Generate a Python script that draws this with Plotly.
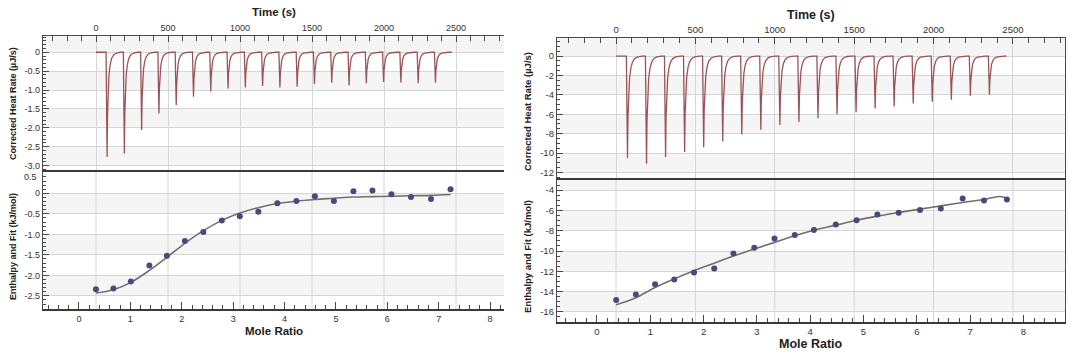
import plotly.graph_objects as go

# ---------------- data ----------------
# injection times (s) of the two thermograms
inj_time_left = [70, 190, 310, 430, 550, 670, 790, 910, 1030, 1150,
                 1270, 1390, 1510, 1630, 1750, 1870, 1990, 2110, 2230, 2350]
peak_left = [-2.77, -2.68, -2.06, -1.62, -1.40, -1.18, -1.04, -0.96, -0.93, -0.89,
             -0.93, -0.91, -0.84, -0.81, -0.88, -0.82, -0.79, -0.80, -0.82, -0.81]
run_end_left = 2470

inj_time_right = [65, 185, 305, 425, 545, 665, 785, 905, 1025, 1145,
                  1265, 1385, 1505, 1625, 1745, 1865, 1985, 2105, 2225, 2345]
peak_right = [-10.5, -11.1, -10.4, -9.9, -9.4, -8.8, -8.1, -7.6, -7.1, -6.8,
              -6.4, -6.0, -5.8, -5.4, -5.2, -4.9, -4.7, -4.5, -4.1, -4.0]
run_end_right = 2460

# shape of one injection peak (seconds after injection, fraction of peak depth)
peak_dt = [0, 3, 7, 10, 14, 20, 28, 38, 52, 72, 100]
peak_frac = [0, 0.45, 1.0, 0.6, 0.36, 0.22, 0.12, 0.06, 0.025, 0.008, 0]

# integrated heats (binding isotherms)
mr_left = [0.33, 0.67, 1.01, 1.37, 1.71, 2.06, 2.42, 2.78, 3.13, 3.49,
           3.86, 4.23, 4.59, 4.96, 5.34, 5.71, 6.08, 6.46, 6.85, 7.23]
dh_left = [-2.34, -2.32, -2.15, -1.76, -1.52, -1.16, -0.94, -0.66, -0.56, -0.45,
           -0.24, -0.19, -0.07, -0.19, 0.05, 0.07, -0.02, -0.09, -0.14, 0.10]
fit_left = [-2.43, -2.35, -2.17, -1.88, -1.56, -1.22, -0.91, -0.66, -0.48, -0.35,
            -0.25, -0.19, -0.15, -0.12, -0.09, -0.08, -0.07, -0.06, -0.05, -0.03]

mr_right = [0.36, 0.73, 1.09, 1.45, 1.82, 2.20, 2.56, 2.95, 3.33, 3.71,
            4.07, 4.48, 4.87, 5.26, 5.66, 6.06, 6.45, 6.86, 7.26, 7.69]
dh_right = [-14.84, -14.28, -13.29, -12.80, -12.11, -11.72, -10.24, -9.68, -8.76, -8.43,
            -7.94, -7.38, -6.96, -6.40, -6.24, -5.97, -5.81, -4.82, -5.01, -4.92]
fit_mr_right = [0.36, 0.73, 1.09, 1.45, 1.82, 2.20, 2.56, 2.95, 3.33, 3.71,
                4.07, 4.48, 4.87, 5.26, 5.66, 6.06, 6.45, 6.86, 7.26, 7.55, 7.69]
fit_right = [-15.3, -14.6, -13.6, -12.75, -11.95, -11.2, -10.5, -9.8, -9.15, -8.5,
             -7.95, -7.45, -6.96, -6.56, -6.2, -5.87, -5.55, -5.22, -4.92, -4.62, -4.78]

# tick labels
time_ticks = [0, 500, 1000, 1500, 2000, 2500]
time_text = ["0", "500", "1000", "1500", "2000", "2500"]
mr_ticks = [0, 1, 2, 3, 4, 5, 6, 7, 8]
mr_text = ["0", "1", "2", "3", "4", "5", "6", "7", "8"]
lt_ticks = [0, -0.5, -1.0, -1.5, -2.0, -2.5, -3.0]
lt_text = ["0", "-0.5", "-1.0", "-1.5", "-2.0", "-2.5", "-3.0"]
lb_ticks = [0.5, 0, -0.5, -1.0, -1.5, -2.0, -2.5]
lb_text = ["0.5", "0", "-0.5", "-1.0", "-1.5", "-2.0", "-2.5"]
rt_ticks = [0, -2, -4, -6, -8, -10, -12]
rt_text = ["0", "-2", "-4", "-6", "-8", "-10", "-12"]
rb_ticks = [-4, -6, -8, -10, -12, -14, -16]
rb_text = ["-4", "-6", "-8", "-10", "-12", "-14", "-16"]


def thermogram(times, depths, t_end):
    xs, ys = [0.0], [0.0]
    for t, d in zip(times, depths):
        for dt, fr in zip(peak_dt, peak_frac):
            xs.append(t + dt)
            ys.append(d * fr)
    xs.append(t_end)
    ys.append(0.0)
    return xs, ys


FONT = "Liberation Sans, Arial, sans-serif"
AX = "#4a4a4a"
GRID = "#d6d6d6"
TRACE_RED = "#9b5356"
DOT = "#474b7c"
FITC = "#707070"
BAND = "rgba(0,0,0,0.04)"

fig = go.Figure()

tlx, tly = thermogram(inj_time_left, peak_left, run_end_left)
trx, try_ = thermogram(inj_time_right, peak_right, run_end_right)

fig.add_trace(go.Scatter(x=tlx, y=tly, mode="lines", xaxis="x", yaxis="y",
                         line=dict(color=TRACE_RED, width=1.3), hoverinfo="skip"))
fig.add_trace(go.Scatter(x=mr_left, y=fit_left, mode="lines", xaxis="x2", yaxis="y2",
                         line=dict(color=FITC, width=1.6, shape="spline"), hoverinfo="skip"))
fig.add_trace(go.Scatter(x=mr_left, y=dh_left, mode="markers", xaxis="x2", yaxis="y2",
                         marker=dict(color=DOT, size=6)))
fig.add_trace(go.Scatter(x=trx, y=try_, mode="lines", xaxis="x3", yaxis="y3",
                         line=dict(color=TRACE_RED, width=1.3), hoverinfo="skip"))
fig.add_trace(go.Scatter(x=fit_mr_right, y=fit_right, mode="lines", xaxis="x4", yaxis="y4",
                         line=dict(color=FITC, width=1.6, shape="spline"), hoverinfo="skip"))
fig.add_trace(go.Scatter(x=mr_right, y=dh_right, mode="markers", xaxis="x4", yaxis="y4",
                         marker=dict(color=DOT, size=6)))

# panel geometry (paper fractions)
L_DOM = [43 / 1080, 504 / 1080]
R_DOM = [557 / 1080, 1065 / 1080]
LT_DOM = [1 - 172 / 353, 1 - 36 / 353]
LB_DOM = [1 - 309 / 353, 1 - 172 / 353]
RT_DOM = [1 - 180 / 353, 1 - 38 / 353]
RB_DOM = [1 - 322 / 353, 1 - 180 / 353]


def time_axis(dom, rng, anchor, fs):
    return dict(domain=dom, range=rng, anchor=anchor, side="top",
                tickmode="array", tickvals=time_ticks, ticktext=time_text,
                ticks="inside", ticklen=6, tickcolor=AX, tickwidth=1,
                showline=True, linecolor=AX, linewidth=1.3,
                showgrid=True, gridcolor=GRID, gridwidth=1, zeroline=False,
                tickfont=dict(family=FONT, size=fs, color="#333"),
                minor=dict(dtick=100, tick0=0, ticks="inside", ticklen=5,
                           tickcolor=AX, showgrid=False))


def mr_axis(dom, rng, anchor, fs):
    return dict(domain=dom, range=rng, anchor=anchor, side="bottom",
                tickmode="array", tickvals=mr_ticks, ticktext=mr_text,
                ticks="inside", ticklen=7, tickcolor=AX, tickwidth=1.2,
                showline=True, mirror=True, linecolor="#3a3a3a", linewidth=1.6,
                showgrid=False, zeroline=False,
                tickfont=dict(family=FONT, size=fs, color="#333"),
                minor=dict(dtick=0.2, tick0=0, ticks="inside", ticklen=4,
                           tickcolor=AX, showgrid=False))


def y_axis(dom, rng, anchor, vals, text, mdt, fs, mirror):
    return dict(domain=dom, range=rng, anchor=anchor,
                tickmode="array", tickvals=vals, ticktext=text,
                ticks="inside", ticklen=6, tickcolor=AX, tickwidth=1,
                showline=True, mirror=mirror, linecolor=AX, linewidth=1.3,
                showgrid=True, gridcolor=GRID, gridwidth=1, zeroline=False,
                tickfont=dict(family=FONT, size=fs, color="#333"),
                minor=dict(dtick=mdt, ticks="inside", ticklen=3,
                           tickcolor=AX, showgrid=False))


# the top label of the lower-left axis sits at the panel seam; it is drawn
# as a separate text nudged just below the seam so it does not collide
lb_axis_text = [""] + lb_text[1:]

layout = dict(
    width=1080, height=353,
    margin=dict(l=0, r=0, t=0, b=0),
    paper_bgcolor="white", plot_bgcolor="white",
    showlegend=False,
    xaxis=time_axis(L_DOM, [-368, 2833], "y", 9),
    yaxis=y_axis(LT_DOM, [-3.17, 0.43], "x", lt_ticks, lt_text, 0.1, 9, False),
    xaxis2=mr_axis(L_DOM, [-0.70, 8.27], "y2", 9),
    yaxis2=y_axis(LB_DOM, [-2.82, 0.52], "x2", lb_ticks, lb_axis_text, 0.1, 9, False),
    xaxis3=time_axis(R_DOM, [-372, 2828], "y3", 9.5),
    yaxis3=y_axis(RT_DOM, [-12.78, 1.86], "x3", rt_ticks, rt_text, 0.5, 9.5, True),
    xaxis4=mr_axis(R_DOM, [-0.75, 8.78], "y4", 9.5),
    yaxis4=y_axis(RB_DOM, [-17.0, -3.0], "x4", rb_ticks, rb_text, 0.5, 9.5, True),
)
fig.update_layout(**layout)

# alternating light bands behind the horizontal grid
bands = [
    ("x", "y", [(0, 0.43), (-1.0, -0.5), (-2.0, -1.5), (-3.0, -2.5)]),
    ("x2", "y2", [(-0.5, 0), (-1.5, -1.0), (-2.5, -2.0)]),
    ("x3", "y3", [(0, 1.86), (-4, -2), (-8, -6), (-12, -10)]),
    ("x4", "y4", [(-4, -3.0), (-8, -6), (-12, -10), (-16, -14)]),
]
shapes = []
for xa, ya, lst in bands:
    for y0, y1 in lst:
        shapes.append(dict(type="rect", xref=xa + " domain", yref=ya, x0=0, x1=1,
                           y0=y0, y1=y1, fillcolor=BAND, line=dict(width=0),
                           layer="below"))
# time grid continues through the isotherm panels
for t in time_ticks:
    shapes.append(dict(type="line", xref="x", yref="y2 domain", x0=t, x1=t, y0=0, y1=1,
                       line=dict(color=GRID, width=1), layer="below"))
    shapes.append(dict(type="line", xref="x3", yref="y4 domain", x0=t, x1=t, y0=0, y1=1,
                       line=dict(color=GRID, width=1), layer="below"))
fig.update_layout(shapes=shapes)

ann = []


def add_text(txt, x, y, size, angle=0, xanchor="center"):
    ann.append(dict(text=txt, x=x, y=y, xref="paper", yref="paper", showarrow=False,
                    textangle=angle, xanchor=xanchor, yanchor="middle",
                    font=dict(family=FONT, size=size, color="#222")))


add_text("<b>Time (s)</b>", 274 / 1080, 1 - 12 / 353, 11.5)
add_text("<b>Time (s)</b>", 811 / 1080, 1 - 15 / 353, 12.5)
add_text("<b>Mole Ratio</b>", 274 / 1080, 1 - 331 / 353, 11.5)
add_text("<b>Mole Ratio</b>", 811 / 1080, 1 - 344 / 353, 12.5)
add_text("<b>Corrected Heat Rate (µJ/s)</b>", 13 / 1080, 1 - 104 / 353, 9, -90)
add_text("<b>Enthalpy and Fit (kJ/mol)</b>", 13 / 1080, 1 - 247 / 353, 9, -90)
add_text("<b>Corrected Heat Rate (µJ/s)</b>", 527 / 1080, 1 - 112 / 353, 9.5, -90)
add_text("<b>Enthalpy and Fit (kJ/mol)</b>", 527 / 1080, 1 - 257 / 353, 9.5, -90)
# seam label of the lower-left axis
ann.append(dict(text=lb_text[0], x=39 / 1080, y=1 - 177 / 353, xref="paper", yref="paper",
                showarrow=False, xanchor="right", yanchor="middle",
                font=dict(family=FONT, size=9, color="#333")))
fig.update_layout(annotations=ann)

fig.write_html("out.html")
